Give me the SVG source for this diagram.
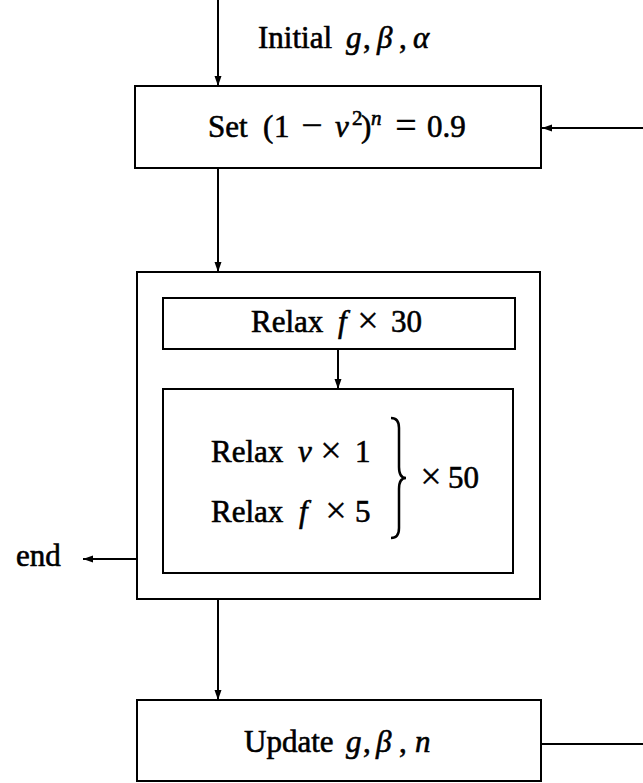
<svg xmlns="http://www.w3.org/2000/svg" width="643" height="783" viewBox="0 0 643 783">
<style>
.box{fill:none;stroke:#000;stroke-width:2}
.ln{fill:none;stroke:#000;stroke-width:2}
text{font-family:"Liberation Serif","DejaVu Serif",serif;font-size:31px;fill:#000;stroke:#000;stroke-width:0.6}
.i{font-style:italic}
.m{text-anchor:middle}
.op{text-anchor:middle;font-size:38px;stroke-width:0.3}
.sup{font-size:21px}
</style>
<defs>
<marker id="ah" viewBox="0 0 10 10" refX="10" refY="5" markerWidth="5" markerHeight="5" markerUnits="strokeWidth" orient="auto">
<path d="M0,1.5 L10,5 L0,8.5 Z" fill="#000"/>
</marker>
</defs>
<rect width="643" height="783" fill="#fff"/>
<g id="connectors">
<line class="ln" x1="218" y1="0" x2="218" y2="86" marker-end="url(#ah)"/>
<line class="ln" x1="643" y1="128" x2="542" y2="128" marker-end="url(#ah)"/>
<line class="ln" x1="218" y1="168" x2="218" y2="272" marker-end="url(#ah)"/>
<line class="ln" x1="338" y1="349" x2="338" y2="389" marker-end="url(#ah)"/>
<line class="ln" x1="137" y1="559" x2="83" y2="559" marker-end="url(#ah)"/>
<line class="ln" x1="218" y1="599" x2="218" y2="700" marker-end="url(#ah)"/>
<line class="ln" x1="541" y1="744" x2="643" y2="744"/>
</g>
<g id="label-initial">
<text y="48"><tspan x="258">Initial</tspan><tspan class="i" x="346">g</tspan><tspan x="363">,</tspan><tspan class="i" x="377">β</tspan><tspan x="399">,</tspan><tspan class="i" x="413">α</tspan></text>
</g>
<g id="node-set">
<rect class="box" x="135" y="86" width="406" height="82"/>
<text y="137"><tspan x="208">Set</tspan><tspan x="263">(</tspan><tspan x="274">1</tspan><tspan class="op" x="312" dy="1">−</tspan><tspan class="i" x="335" dy="-1">v</tspan><tspan class="sup" x="352" dy="-12">2</tspan><tspan x="361" dy="12">)</tspan><tspan class="i sup" x="371" dy="-12">n</tspan><tspan class="op" x="406" dy="13">=</tspan><tspan x="427" dy="-1">0.9</tspan></text>
</g>
<g id="node-loop">
<rect class="box" x="137" y="272" width="403" height="327"/>
</g>
<g id="node-relax30">
<rect class="box" x="163" y="298" width="352" height="51"/>
<text y="332"><tspan x="251">Relax</tspan><tspan class="i" x="338">f</tspan><tspan class="op" x="368" dy="1">×</tspan><tspan x="391" dy="-1">30</tspan></text>
</g>
<g id="node-inner">
<rect class="box" x="163" y="389" width="350" height="184"/>
<text y="462"><tspan x="211">Relax</tspan><tspan class="i" x="298">v</tspan><tspan class="op" x="331" dy="1">×</tspan><tspan x="355" dy="-1">1</tspan></text>
<text y="522"><tspan x="211">Relax</tspan><tspan class="i" x="299">f</tspan><tspan class="op" x="336" dy="1">×</tspan><tspan x="355" dy="-1">5</tspan></text>
<path d="M391,418 Q399,418 399,428 L399,467 Q399,478 406,478 Q399,478 399,489 L399,528 Q399,538 391,538" fill="none" stroke="#000" stroke-width="2.5"/>
<text y="488"><tspan class="op" x="431" dy="1">×</tspan><tspan x="448" dy="-1">50</tspan></text>
</g>
<g id="node-end">
<text x="16" y="566">end</text>
</g>
<g id="node-update">
<rect class="box" x="137" y="700" width="404" height="81"/>
<text y="752"><tspan x="244">Update</tspan><tspan class="i" x="346">g</tspan><tspan x="363">,</tspan><tspan class="i" x="376">β</tspan><tspan x="399">,</tspan><tspan class="i" x="415">n</tspan></text>
</g>
</svg>
